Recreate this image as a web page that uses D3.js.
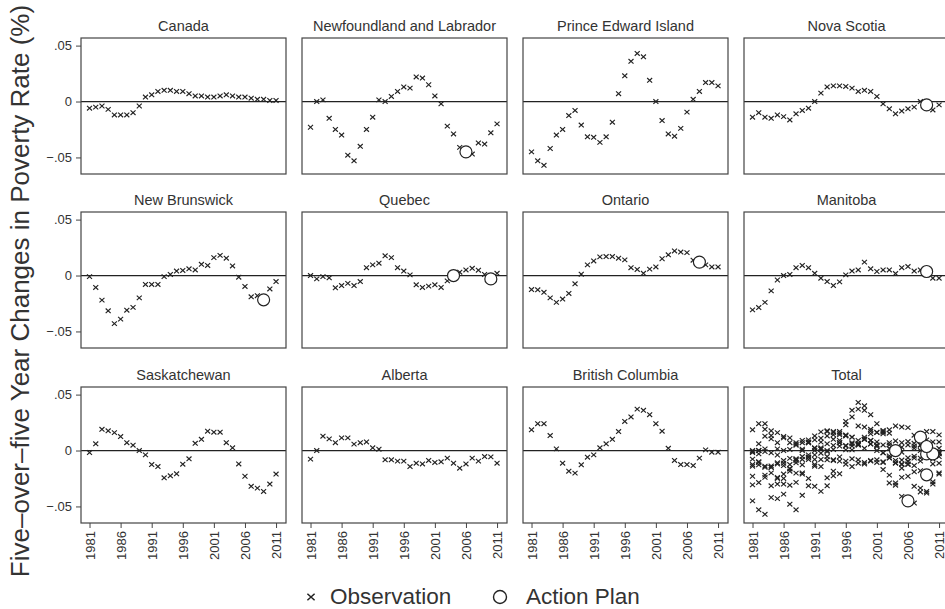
<!DOCTYPE html>
<html>
<head>
<meta charset="utf-8">
<script src="https://cdn.jsdelivr.net/npm/d3@7"></script>
<style>
  body { margin: 0; background: #fff; }
  svg { display: block; font-family: "Liberation Sans", Arial, Helvetica, sans-serif; }
</style>
</head>
<body>
<div id="chart"></div>
<script>
// ---------------- data ----------------
var years = [1981,1982,1983,1984,1985,1986,1987,1988,1989,1990,
             1991,1992,1993,1994,1995,1996,1997,1998,1999,2000,
             2001,2002,2003,2004,2005,2006,2007,2008,2009,2010,2011];

var canada       = [-0.006,-0.005,-0.004,-0.007,-0.012,-0.012,-0.012,-0.010,-0.004,0.004,
                    0.006,0.009,0.010,0.010,0.009,0.009,0.007,0.005,0.005,0.004,
                    0.004,0.005,0.006,0.005,0.004,0.004,0.003,0.002,0.002,0.001,0.001];
var newfoundland = [-0.023,0.000,0.0015,-0.015,-0.025,-0.030,-0.048,-0.053,-0.040,-0.025,
                    -0.014,0.0015,0.000,0.0045,0.009,0.013,0.012,0.022,0.021,0.015,
                    0.005,-0.002,-0.022,-0.029,-0.041,-0.045,-0.047,-0.037,-0.038,-0.028,-0.020];
var princeEdward = [-0.045,-0.053,-0.057,-0.042,-0.030,-0.025,-0.0125,-0.008,-0.021,-0.0315,
                    -0.032,-0.0365,-0.0315,-0.0185,0.007,0.023,0.036,0.043,0.040,0.019,
                    0.000,-0.017,-0.029,-0.031,-0.024,-0.0095,0.002,0.009,0.017,0.017,0.014];
var novaScotia   = [-0.014,-0.010,-0.014,-0.015,-0.012,-0.0135,-0.0165,-0.011,-0.008,-0.006,
                    0.000,0.0075,0.013,0.014,0.014,0.0135,0.012,0.009,0.010,0.009,
                    0.0045,-0.002,-0.0065,-0.011,-0.0085,-0.0065,-0.005,0.000,-0.003,-0.0075,-0.003];
var newBrunswick = [-0.001,-0.0107,-0.022,-0.0315,-0.043,-0.039,-0.031,-0.0285,-0.020,-0.008,
                    -0.008,-0.008,-0.001,0.001,0.004,0.0045,0.006,0.005,0.010,0.009,
                    0.016,0.018,0.0155,0.0086,-0.0015,-0.0098,-0.019,-0.018,-0.0217,-0.012,-0.0054];
var quebec       = [0.000,-0.003,-0.001,-0.002,-0.011,-0.009,-0.007,-0.009,-0.0054,0.007,
                    0.0095,0.011,0.0176,0.016,0.007,0.004,0.0006,-0.0083,-0.0107,-0.0095,
                    -0.0083,-0.0107,-0.0048,0.000,0.003,0.005,0.0065,0.0048,0.001,-0.003,0.002];
var ontario      = [-0.0125,-0.0128,-0.015,-0.020,-0.024,-0.021,-0.016,-0.0074,0.0012,0.0095,
                    0.013,0.0167,0.017,0.017,0.0155,0.014,0.007,0.0054,0.002,0.0057,
                    0.0077,0.015,0.0185,0.022,0.021,0.0205,0.0137,0.012,0.0095,0.0077,0.0077];
var manitoba     = [-0.0307,-0.0286,-0.024,-0.0137,-0.004,0.000,0.001,0.007,0.009,0.007,
                    0.002,-0.0024,-0.0054,-0.009,-0.0057,0.0006,0.004,0.005,0.012,0.006,
                    0.0036,0.005,0.005,0.0018,0.007,0.008,0.004,0.005,0.0036,-0.0024,-0.0024];
var saskatchewan = [-0.0018,0.006,0.019,0.0176,0.016,0.0125,0.007,0.0048,0.000,-0.0039,
                    -0.0125,-0.0143,-0.0244,-0.0226,-0.0208,-0.0122,-0.0074,0.0065,0.010,0.0173,
                    0.0164,0.0164,0.007,0.0024,-0.012,-0.023,-0.032,-0.0336,-0.0366,-0.030,-0.021];
var alberta      = [-0.0077,0.000,0.0128,0.0104,0.007,0.0113,0.0113,0.0057,0.007,0.0077,
                    0.0024,0.0012,-0.0083,-0.0083,-0.0095,-0.0095,-0.0143,-0.0113,-0.012,-0.0089,
                    -0.0107,-0.0101,-0.0068,-0.0113,-0.0158,-0.012,-0.0068,-0.0095,-0.0054,-0.0057,-0.0113];
var britishCol   = [0.0185,0.024,0.024,0.0134,0.0015,-0.0113,-0.0185,-0.0202,-0.0128,-0.006,
                    -0.0039,0.0024,0.006,0.010,0.017,0.026,0.030,0.037,0.036,0.032,
                    0.024,0.0173,0.002,-0.0089,-0.0125,-0.0125,-0.0134,-0.0068,0.0006,-0.0015,-0.0015];

var panelNames = ["Canada","Newfoundland and Labrador","Prince Edward Island","Nova Scotia",
                  "New Brunswick","Quebec","Ontario","Manitoba",
                  "Saskatchewan","Alberta","British Columbia","Total"];
var panelSeries = [canada,newfoundland,princeEdward,novaScotia,
                   newBrunswick,quebec,ontario,manitoba,
                   saskatchewan,alberta,britishCol];

// province, year of the action plan
var actionPlan = [["Newfoundland and Labrador",2006],["Nova Scotia",2009],["New Brunswick",2009],
                  ["Quebec",2004],["Quebec",2010],["Ontario",2008],["Manitoba",2009]];

var yTicks = [-0.05, 0, 0.05];
var xTicks = [1981,1986,1991,1996,2001,2006,2011];

// ---------------- layout ----------------
var W = 945, H = 609;
var panelW = 205, panelH = 136;
var colLeft = [81, 302, 523, 744];
var rowTop = [38, 212, 387];
var ink = "#222";

var svg = d3.select("#chart").append("svg")
  .attr("width", W)
  .attr("height", H);

var x = d3.scaleLinear().domain([1979.63, 2012.6]).range([0, panelW]);
var y = d3.scaleLinear().domain([-0.0648, 0.0568]).range([panelH, 0]);

var crossPath = "M-2.5,-2.3L2.5,2.3M-2.5,2.3L2.5,-2.3";

function fmtY(d) {
  if (d === 0) return "0";
  return (d < 0 ? "\u2212" : "") + d3.format(".2f")(Math.abs(d)).replace(/^0/, "");
}

panelNames.forEach(function(name, i) {
  var row = Math.floor(i / 4), col = i % 4;
  var g = svg.append("g")
    .attr("transform", "translate(" + colLeft[col] + "," + rowTop[row] + ")");

  // points for this panel
  var pts = [];
  if (name === "Total") {
    panelSeries.slice(1).forEach(function(s) {
      s.forEach(function(v, j) { pts.push({year: years[j], v: v}); });
    });
  } else {
    panelSeries[i].forEach(function(v, j) { pts.push({year: years[j], v: v}); });
  }

  var plans = [];
  actionPlan.forEach(function(a) {
    if (name === "Total" || a[0] === name) {
      var s = panelSeries[panelNames.indexOf(a[0])];
      plans.push({year: a[1], v: s[years.indexOf(a[1])]});
    }
  });

  // title
  g.append("text")
    .attr("x", panelW / 2)
    .attr("y", -7.5)
    .attr("text-anchor", "middle")
    .attr("font-size", "14.5px")
    .attr("fill", "#333")
    .text(name);

  // zero line
  g.append("line")
    .attr("x1", 0).attr("x2", panelW)
    .attr("y1", y(0)).attr("y2", y(0))
    .attr("stroke", ink)
    .attr("stroke-width", 1.2);

  // observations
  g.selectAll("path.obs")
    .data(pts)
    .enter().append("path")
      .attr("class", "obs")
      .attr("d", crossPath)
      .attr("transform", function(d) { return "translate(" + x(d.year) + "," + y(d.v) + ")"; })
      .attr("stroke", ink)
      .attr("stroke-width", 1.15)
      .attr("fill", "none");

  // action plan
  g.selectAll("circle.plan")
    .data(plans)
    .enter().append("circle")
      .attr("class", "plan")
      .attr("cx", function(d) { return x(d.year); })
      .attr("cy", function(d) { return y(d.v); })
      .attr("r", 6)
      .attr("fill", "#fff")
      .attr("stroke", ink)
      .attr("stroke-width", 1.2);

  // frame
  g.append("rect")
    .attr("width", panelW).attr("height", panelH)
    .attr("fill", "none")
    .attr("stroke", "#444")
    .attr("stroke-width", 1.2);

  // y axis on first column
  if (col === 0) {
    var ya = g.append("g")
      .call(d3.axisLeft(y).tickValues(yTicks).tickFormat(fmtY).tickSize(5).tickPadding(4));
    ya.select(".domain").remove();
    ya.selectAll("line").attr("stroke", "#444");
    ya.selectAll("text").attr("font-size", "13px").attr("fill", "#333").attr("font-family", null);
  }

  // x axis on bottom row
  if (row === 2) {
    var xa = g.append("g")
      .attr("transform", "translate(0," + panelH + ")")
      .call(d3.axisBottom(x).tickValues(xTicks).tickFormat(d3.format("d")).tickSize(5));
    xa.select(".domain").remove();
    xa.selectAll("line").attr("stroke", "#444");
    xa.selectAll("text")
      .attr("transform", "rotate(-90)")
      .attr("x", -8)
      .attr("y", 0)
      .attr("dy", "0.35em")
      .attr("text-anchor", "end")
      .attr("font-size", "13px")
      .attr("fill", "#333")
      .attr("font-family", null);
  }
});

// y axis title
svg.append("text")
  .attr("transform", "translate(29,291) rotate(-90)")
  .attr("text-anchor", "middle")
  .attr("font-size", "26px")
  .attr("fill", "#333")
  .text("Five\u2013over\u2013five Year Changes in Poverty Rate (%)");

// legend
var legend = svg.append("g");
legend.append("path")
  .attr("d", "M-3.6,-3.3L3.6,3.3M-3.6,3.3L3.6,-3.3")
  .attr("transform", "translate(311,597)")
  .attr("stroke", ink)
  .attr("stroke-width", 1.5)
  .attr("fill", "none");
legend.append("text")
  .attr("x", 330).attr("y", 604)
  .attr("font-size", "22.5px")
  .attr("fill", "#333")
  .text("Observation");
legend.append("circle")
  .attr("cx", 500).attr("cy", 597).attr("r", 6.5)
  .attr("fill", "#fff")
  .attr("stroke", ink)
  .attr("stroke-width", 1.4);
legend.append("text")
  .attr("x", 526).attr("y", 604)
  .attr("font-size", "22.5px")
  .attr("fill", "#333")
  .text("Action Plan");
</script>
</body>
</html>
